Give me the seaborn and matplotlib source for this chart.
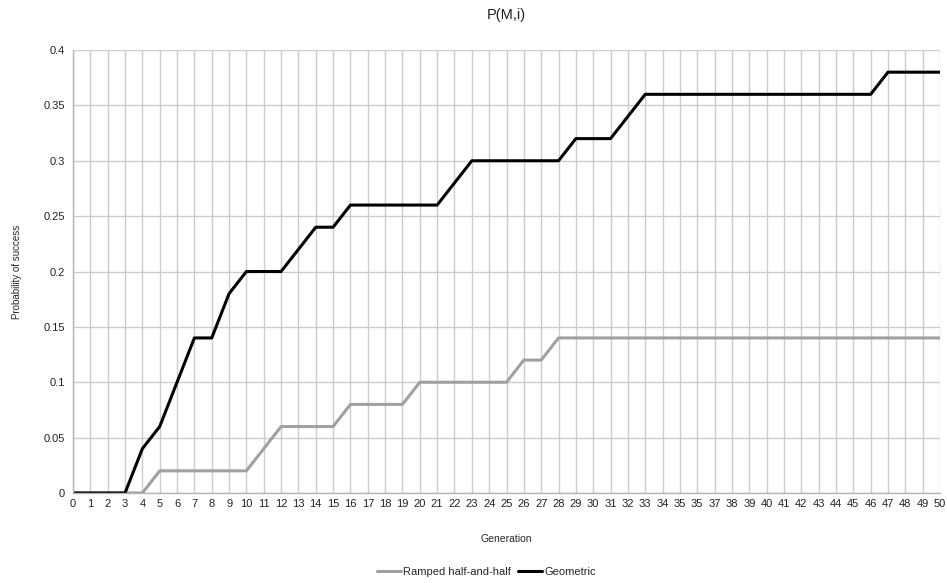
import pandas as pd
import matplotlib
matplotlib.use("Agg")
import matplotlib.pyplot as plt
import seaborn as sns

# --- data ---
generations = list(range(0, 51))
ramped = [0, 0, 0, 0, 0, 0.02, 0.02, 0.02, 0.02, 0.02,
          0.02, 0.04, 0.06, 0.06, 0.06, 0.06, 0.08, 0.08, 0.08, 0.08,
          0.10, 0.10, 0.10, 0.10, 0.10, 0.10, 0.12, 0.12, 0.14, 0.14,
          0.14, 0.14, 0.14, 0.14, 0.14, 0.14, 0.14, 0.14, 0.14, 0.14,
          0.14, 0.14, 0.14, 0.14, 0.14, 0.14, 0.14, 0.14, 0.14, 0.14,
          0.14]
geometric = [0, 0, 0, 0, 0.04, 0.06, 0.10, 0.14, 0.14, 0.18,
             0.20, 0.20, 0.20, 0.22, 0.24, 0.24, 0.26, 0.26, 0.26, 0.26,
             0.26, 0.26, 0.28, 0.30, 0.30, 0.30, 0.30, 0.30, 0.30, 0.32,
             0.32, 0.32, 0.34, 0.36, 0.36, 0.36, 0.36, 0.36, 0.36, 0.36,
             0.36, 0.36, 0.36, 0.36, 0.36, 0.36, 0.36, 0.38, 0.38, 0.38,
             0.38]
series_names = ["Ramped half-and-half", "Geometric"]
# the original axis really labels generation 36 as "35"
x_tick_labels = [str(g) for g in generations]
x_tick_labels[36] = "35"
y_ticks = [0, 0.05, 0.1, 0.15, 0.2, 0.25, 0.3, 0.35, 0.4]
y_tick_labels = ["0", "0.05", "0.1", "0.15", "0.2", "0.25", "0.3", "0.35", "0.4"]

df = pd.DataFrame({
    "Generation": generations * 2,
    "Probability": ramped + geometric,
    "Series": [series_names[0]] * len(ramped) + [series_names[1]] * len(geometric),
})

sns.set_theme(style="white")
plt.rcParams["font.family"] = ["Liberation Sans", "DejaVu Sans"]

fig = plt.figure(figsize=(9.47, 5.83), dpi=100)
ax = fig.add_axes([0.0771, 0.1544, 0.9155, 0.7598])

sns.lineplot(data=df, x="Generation", y="Probability", hue="Series",
             palette={series_names[0]: "#a0a0a0", series_names[1]: "#000000"},
             linewidth=2.2, ax=ax, legend=True)

ax.set_xlim(0, 50)
ax.set_ylim(0, 0.4)
ax.set_xticks(generations)
ax.set_xticklabels(x_tick_labels, fontsize=8, color="#222222")
ax.set_yticks(y_ticks)
ax.set_yticklabels(y_tick_labels, fontsize=8, color="#222222")
ax.grid(True, color="#cccccc", linewidth=1)
ax.set_axisbelow(True)
ax.tick_params(axis="both", length=4, width=1, color="#b3b3b3", pad=2)
ax.tick_params(axis="x", length=0, pad=4)

for side in ["top", "right"]:
    ax.spines[side].set_visible(False)
for side in ["left", "bottom"]:
    ax.spines[side].set_color("#b3b3b3")
    ax.spines[side].set_linewidth(1)

ax.set_xlabel("Generation", fontsize=7.5, labelpad=18)
ax.set_ylabel("Probability of success", fontsize=7, labelpad=15.5)
ax.set_title("P(M,i)", fontsize=10.5, pad=22, color="#222222")

ax.legend(loc="upper center", bbox_to_anchor=(0.477, -0.145), ncol=2,
          frameon=False, fontsize=8, handlelength=2.2, handletextpad=0.2,
          columnspacing=0.6)

fig.savefig("out.png", dpi=100)
